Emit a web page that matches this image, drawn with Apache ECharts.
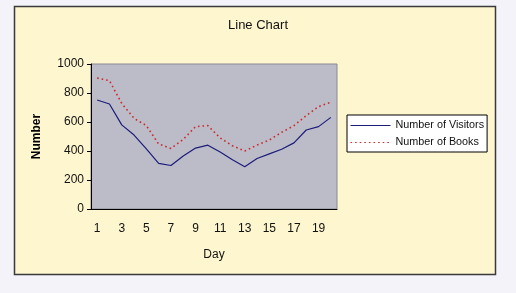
<!DOCTYPE html>
<html><head><meta charset="utf-8">
<script src="https://cdn.jsdelivr.net/npm/echarts@6/dist/echarts.min.js"></script>
<style>html,body{margin:0;padding:0;background:#f5f3fa;}#c{width:516px;height:293px;}</style>
</head><body><div id="c"></div>
<script>
var days = ['1','2','3','4','5','6','7','8','9','10','11','12','13','14','15','16','17','18','19','20'];
var visitors = [752,724,580,510,415,315,300,365,420,440,393,340,292,348,380,412,456,545,568,632];
var books = [903,885,728,625,575,448,418,480,568,575,490,436,400,441,476,529,575,644,706,736];
var yTicks = [0,200,400,600,800,1000];

var chart = echarts.init(document.getElementById('c'), null, {renderer:'canvas'});
var font = 'Liberation Sans, Arial, sans-serif';
chart.setOption({
  animation:false,
  backgroundColor:'#f5f3fa',
  graphic:[{type:'rect', z:-10, shape:{x:14.5,y:6.5,width:481,height:268},
    style:{fill:'#fdf6cf', stroke:'#3a3a3a', lineWidth:1.5}}],
  title:{text:'Line Chart', left:'center', top:14,
    textStyle:{fontFamily:font, fontSize:13, fontWeight:'normal', color:'#111'}},
  legend:{orient:'vertical', left:347, top:115, itemWidth:40, itemHeight:10, itemGap:6,
    padding:[5,3,4,3], borderColor:'#000', borderWidth:1, backgroundColor:'#fff',
    itemStyle:{opacity:0}, lineStyle:{width:1},
    textStyle:{fontFamily:font, fontSize:10.8, color:'#111'},
    data:['Number of Visitors','Number of Books']},
  grid:{left:91, top:64, right:179, bottom:84, show:true, backgroundColor:'#bcbbc8', borderColor:'#8a8a92', borderWidth:1},
  xAxis:{type:'category', data:days, boundaryGap:true,
    name:'Day', nameLocation:'middle', nameGap:40,
    nameTextStyle:{fontFamily:font, fontSize:12, color:'#111'},
    axisLine:{lineStyle:{color:'#000', width:1}},
    axisTick:{interval:0, length:4, lineStyle:{color:'#000'}},
    axisLabel:{interval:1, fontFamily:font, fontSize:12, color:'#111', margin:14}},
  yAxis:{type:'value', min:0, max:1000, interval:200,
    name:'Number', nameLocation:'middle', nameGap:48,
    nameTextStyle:{fontFamily:font, fontSize:12, fontWeight:'bold', color:'#000'},
    splitLine:{show:false},
    axisLine:{show:true, lineStyle:{color:'#000', width:1}},
    axisTick:{show:true, length:4, lineStyle:{color:'#000'}},
    axisLabel:{fontFamily:font, fontSize:12, color:'#111', margin:7, formatter:function(v){return String(v);}}},
  series:[
    {name:'Number of Visitors', type:'line', data:visitors, symbol:'none',
      lineStyle:{color:'#1c1c7a', width:1.2}, itemStyle:{color:'#1c1c7a'}},
    {name:'Number of Books', type:'line', data:books, symbol:'none',
      lineStyle:{color:'#cc2a2a', width:1.6, type:[1.6,3]}, itemStyle:{color:'#cc2a2a'}}
  ]
});
</script></body></html>
